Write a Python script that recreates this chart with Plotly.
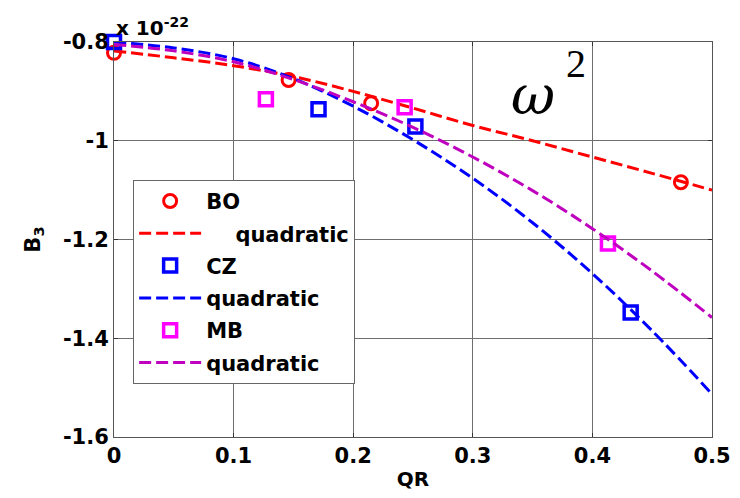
import plotly.graph_objects as go

# ---- data (values in units of 1e-22) ----
bo_x = [0.0, 0.146, 0.215, 0.474]
bo_y = [-0.822, -0.877, -0.924, -1.084]

cz_x = [0.0, 0.171, 0.252, 0.432]
cz_y = [-0.800, -0.936, -0.971, -1.348]

mb_x = [0.0, 0.127, 0.243, 0.413]
mb_y = [-0.798, -0.916, -0.932, -1.208]

fit_x = [0.0, 0.05, 0.1, 0.15, 0.2, 0.25, 0.3, 0.35, 0.4, 0.45, 0.5]
bo_fit = [-0.818, -0.832, -0.848, -0.870, -0.900, -0.934, -0.969, -1.000, -1.033, -1.066, -1.100]
cz_fit = [-0.800, -0.812, -0.834, -0.874, -0.930, -0.998, -1.076, -1.166, -1.269, -1.385, -1.513]
mb_fit = [-0.805, -0.818, -0.840, -0.876, -0.921, -0.973, -1.033, -1.101, -1.178, -1.264, -1.358]

xticks = [0, 0.1, 0.2, 0.3, 0.4, 0.5]
xtick_text = ["0", "0.1", "0.2", "0.3", "0.4", "0.5"]
yticks = [-1.6, -1.4, -1.2, -1.0, -0.8]
ytick_text = ["-1.6", "-1.4", "-1.2", "-1", "-0.8"]

RED = "#FF0000"
BLUE = "#0000FF"
MAG = "#FF00FF"
PURP = "#BF00BF"
NB = "\u00a0"

fig = go.Figure()

fig.add_trace(go.Scatter(x=bo_x, y=bo_y, mode="markers", name="BO",
                         legendgroup="a",
                         marker=dict(symbol="circle-open", size=13, color=RED, line=dict(width=3, color=RED)),
                         cliponaxis=False))
fig.add_trace(go.Scatter(x=fit_x, y=bo_fit, mode="lines", name=NB * 4 + "quadratic",
                         legendgroup="b", line_shape="spline",
                         line=dict(color=RED, width=3, dash="12px,5px")))
fig.add_trace(go.Scatter(x=cz_x, y=cz_y, mode="markers", name="CZ",
                         legendgroup="c",
                         marker=dict(symbol="square-open", size=13, color=BLUE, line=dict(width=3.5, color=BLUE)),
                         cliponaxis=False))
fig.add_trace(go.Scatter(x=fit_x, y=cz_fit, mode="lines", name="quadratic",
                         legendgroup="d", line_shape="spline",
                         line=dict(color=BLUE, width=3, dash="12px,5px")))
fig.add_trace(go.Scatter(x=mb_x, y=mb_y, mode="markers", name="MB",
                         legendgroup="e",
                         marker=dict(symbol="square-open", size=13, color=MAG, line=dict(width=3.5, color=MAG)),
                         cliponaxis=False))
fig.add_trace(go.Scatter(x=fit_x, y=mb_fit, mode="lines", name="quadratic",
                         legendgroup="f", line_shape="spline",
                         line=dict(color=PURP, width=3, dash="12px,5px")))

FAM = "DejaVu Sans, Liberation Sans, Arial, sans-serif"

# page body has an 8px margin, so the figure is a bit smaller and margins offset
fig.update_layout(
    width=732, height=490,
    margin=dict(l=106, r=28, t=34, b=61),
    paper_bgcolor="white", plot_bgcolor="white",
    font=dict(family=FAM, color="black"),
    showlegend=True,
    legend=dict(
        x=0.032, y=0.651, xanchor="left", yanchor="top",
        bgcolor="white", bordercolor="#666666", borderwidth=1,
        font=dict(family=FAM, size=21, color="black", weight="bold"),
        itemwidth=62, tracegroupgap=2, traceorder="grouped",
    ),
    xaxis=dict(
        range=[0, 0.5], tickvals=xticks, ticktext=xtick_text, automargin=False,
        showgrid=True, gridcolor="#6e6e6e", gridwidth=1,
        showline=True, linecolor="#555555", linewidth=1, mirror="ticks",
        ticks="inside", ticklen=4, tickcolor="#333333",
        tickfont=dict(family=FAM, size=21, color="black", weight="bold"), zeroline=False,
        title=dict(text="QR", font=dict(family=FAM, size=20, color="black", weight="bold"), standoff=4),
    ),
    yaxis=dict(
        range=[-1.6, -0.8], tickvals=yticks, ticktext=ytick_text, automargin=False,
        showgrid=True, gridcolor="#6e6e6e", gridwidth=1,
        showline=True, linecolor="#555555", linewidth=1, mirror="ticks",
        ticks="inside", ticklen=4, tickcolor="#333333",
        tickfont=dict(family=FAM, size=21, color="black", weight="bold"), zeroline=False,
        title=dict(text="B<sub>3</sub>", font=dict(family=FAM, size=21, color="black", weight="bold"), standoff=16),
    ),
)

fig.add_annotation(xref="paper", yref="paper", x=0.0, y=1.0, xanchor="left", yanchor="bottom",
                   text="x 10<sup>-22</sup>", showarrow=False,
                   font=dict(family=FAM, size=20, color="black", weight="bold"))
fig.add_annotation(xref="paper", yref="paper", x=(533 - 114) / 598, y=(437 - 95) / 395,
                   xanchor="center", yanchor="middle", text="<i>ω</i>", showarrow=False,
                   font=dict(family="DejaVu Serif, Liberation Serif, serif", size=54, color="black", style="italic"))
fig.add_annotation(xref="paper", yref="paper", x=(576 - 114) / 598, y=(437 - 64) / 395,
                   xanchor="center", yanchor="middle", text="2", showarrow=False,
                   font=dict(family="Liberation Serif, Times New Roman, serif", size=40, color="black"))

fig.write_html("out.html")
